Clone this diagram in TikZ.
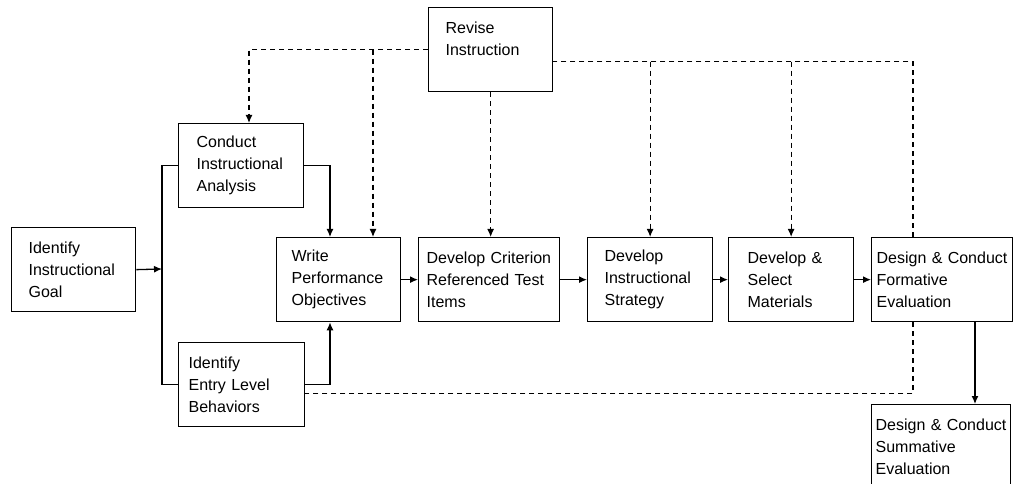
\documentclass[tikz,border=0pt]{standalone}
\usepackage{fontspec}
\setmainfont{Liberation Sans}
\usepackage{tikz}
\usetikzlibrary{arrows.meta}

\tikzset{
	stage/.style={draw, line width=1.3pt, anchor=north west, align=left, minimum height=84pt,
		inner ysep=0pt, font=\fontsize{16}{22}\selectfont},
	flow/.style={line width=1.3pt, -{Latex[length=8pt,width=7pt]}},
	feedback/.style={line width=1.2pt, dash pattern=on 5pt off 4pt},
}

\begin{document}
\begin{tikzpicture}[x=1pt,y=-1pt]
		\useasboundingbox (0,0) rectangle (1013,484);
		%Steps
			\node[stage, inner xsep=17pt, text width=90pt] (goal) at (11,227) {Identify\\Instructional\\Goal};
			\node[stage, inner xsep=18pt, text width=89pt] (analysis) at (178,123) {Conduct\\Instructional\\Analysis};
			\node[stage, inner xsep=10pt, text width=106pt] (entry) at (178,342) {Identify\\Entry Level\\Behaviors};
			\node[stage, inner xsep=15pt, text width=94pt] (write) at (276,237) {Write\\Performance\\Objectives};
			\node[stage, inner xsep=17pt, text width=90pt] (revise) at (428,7) {Revise\\Instruction\\\mbox{}};
			\node[stage, inner xsep=8pt, text width=125pt] (criterion) at (418,237) {Develop Criterion\\Referenced Test\\Items};
			\node[stage, inner xsep=17pt, text width=91pt] (strategy) at (587,237) {Develop\\Instructional\\Strategy};
			\node[stage, inner xsep=19pt, text width=87pt] (materials) at (728,237) {Develop \&\\Select\\Materials};
			\node[stage, inner xsep=5pt, text width=131pt] (formative) at (871,237) {Design \& Conduct\\Formative\\Evaluation};
			\node[stage, inner xsep=4pt, text width=131pt] (summative) at (871,404) {Design \& Conduct\\Summative\\Evaluation};
		%Helper points
			\coordinate (bus) at (162,269);
			\coordinate (wtop) at ([xshift=97pt]write.north west);
			\coordinate (rtop) at ([yshift=-12pt]revise.east);
			\coordinate (fdash) at ([xshift=42pt]formative.north west);
		%Main flow
			\draw[flow] (goal.east) -- (bus);
			\draw[line width=1.3pt] (analysis.west) -| (bus) |- (entry.west);
			\draw[flow] (analysis.east) -| ([xshift=54pt]write.north west);
			\draw[flow] (entry.east) -| ([xshift=54pt]write.south west);
			\draw[flow] (write.east) -- (criterion.west);
			\draw[flow] (criterion.east) -- (strategy.west);
			\draw[flow] (strategy.east) -- (materials.west);
			\draw[flow] (materials.east) -- (formative.west);
			\draw[flow] ([xshift=104pt]formative.south west) -- ([xshift=104pt]summative.north west);
		%Revision loop
			\draw[feedback] ([xshift=42pt]formative.south west) |- ([yshift=-9pt]entry.east);
			\draw[feedback] (fdash) |- (rtop);
			\draw[feedback, -{Latex[length=8pt,width=7pt]}] (revise.west) -| ([xshift=71pt]analysis.north west);
			\draw[feedback, -{Latex[length=8pt,width=7pt]}] (wtop |- revise.west) -- (wtop);
			\draw[feedback, -{Latex[length=8pt,width=7pt]}] (revise.south) -- (revise.south |- criterion.north);
			\foreach \s in {strategy,materials}
			{
				\draw[feedback, -{Latex[length=8pt,width=7pt]}] (\s.north |- rtop) -- (\s.north);
			}
	\end{tikzpicture}
\end{document}
